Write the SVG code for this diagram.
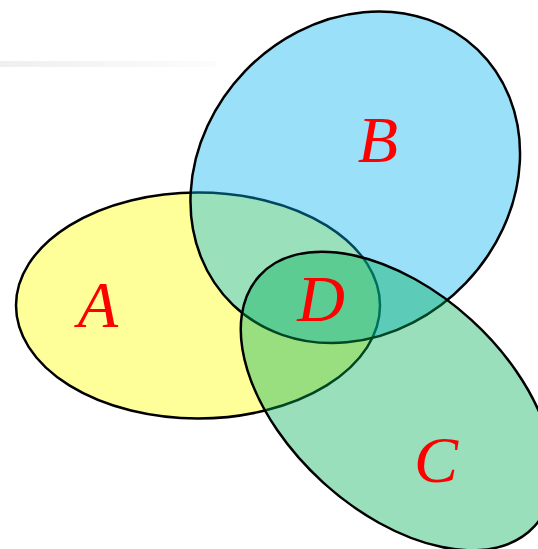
<svg xmlns="http://www.w3.org/2000/svg" width="538" height="549" viewBox="0 0 538 549">
  <style>
    .set { stroke: #000; stroke-width: 2.5; }
    .lbl { font-family: "Liberation Serif", "DejaVu Serif", serif; font-style: italic; font-size: 66px; fill: #ff0000; text-anchor: middle; }
  </style>
  <defs>
    <linearGradient id="fade" x1="0" y1="0" x2="1" y2="0">
      <stop offset="0" stop-color="#efefef"/>
      <stop offset="1" stop-color="#fcfcfc"/>
    </linearGradient>
  </defs>
  <rect x="0" y="61" width="216" height="6" fill="url(#fade)"/>
  <g id="setA">
    <ellipse class="set" cx="198" cy="305.5" rx="182" ry="113" fill="#ffff99"/>
    <text class="lbl" x="98" y="327">A</text>
  </g>
  <g id="setB">
    <ellipse class="set" cx="355.25" cy="177.25" rx="176.7" ry="153" transform="rotate(-46.2 355.25 177.25)" fill="#00b2ee" fill-opacity="0.4"/>
    <text class="lbl" x="378" y="162">B</text>
  </g>
  <g id="setC">
    <ellipse class="set" cx="397" cy="401" rx="186" ry="110" transform="rotate(42.3 397 401)" fill="#00af57" fill-opacity="0.4"/>
    <text class="lbl" x="436" y="482">C</text>
  </g>
  <g id="connectors"/>
  <g id="regionD">
    <text class="lbl" x="321" y="321">D</text>
  </g>
</svg>
